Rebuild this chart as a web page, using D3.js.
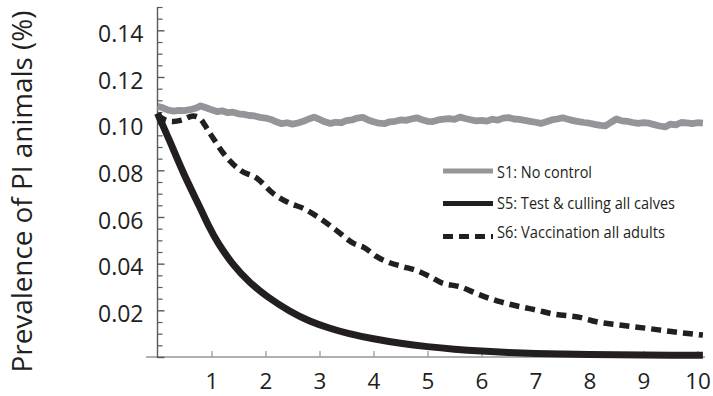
<!DOCTYPE html>
<html><head><meta charset="utf-8">
<script src="https://cdn.jsdelivr.net/npm/d3@7"></script>
<style>
body{margin:0;background:#fff}
svg{display:block}
text{font-family:"Open Sans",sans-serif;fill:#231f20}
</style>
</head><body>
<svg id="chart" width="713" height="396"></svg>
<script>
// ---------- data ----------
const xTickValues = [1,2,3,4,5,6,7,8,9,10];
const yTickValues = [0,0.02,0.04,0.06,0.08,0.10,0.12,0.14];
const yMinorTicks = [0.005,0.01,0.015,0.025,0.03,0.035,0.045,0.05,0.055,0.065,0.07,0.075,0.085,0.09,0.095,0.105,0.11,0.115,0.125,0.13,0.135,0.145,0.15];
const seriesNames = ["S1: No control","S5: Test & culling all calves","S6: Vaccination all adults"];
const yTitle = "Prevalence of PI animals (%)";

// S1: No control (sampled every 0.1 year)
const s1Values = [
0.1075,0.1068,0.1058,0.1054,0.1057,0.1056,0.1060,0.1066,0.1076,0.1068,
0.1060,0.1052,0.1055,0.1047,0.1049,0.1042,0.1040,0.1035,0.1033,0.1027,
0.1024,0.1018,0.1008,0.1000,0.1004,0.0998,0.1003,0.1010,0.1020,0.1028,
0.1018,0.1008,0.1001,0.1006,0.1004,0.1013,0.1016,0.1024,0.1027,0.1016,
0.1008,0.1002,0.1000,0.1008,0.1010,0.1016,0.1014,0.1020,0.1025,0.1017,
0.1010,0.1009,0.1016,0.1019,0.1022,0.1018,0.1028,0.1022,0.1017,0.1012,
0.1014,0.1011,0.1019,0.1015,0.1024,0.1026,0.1020,0.1018,0.1014,0.1010,
0.1006,0.1001,0.1008,0.1016,0.1020,0.1025,0.1019,0.1013,0.1009,0.1005,
0.1002,0.0997,0.0993,0.0991,0.1006,0.1020,0.1012,0.1010,0.1005,0.1001,
0.1004,0.1002,0.0996,0.0990,0.0986,0.0998,0.0995,0.1005,0.1003,0.1000,
0.1004,0.1002];
const s1Years = s1Values.map((v,i) => i/10);

// S5: Test & culling all calves
const s5Years  = [0,0.23,0.48,0.79,0.97,1.10,1.40,1.71,2.02,2.45,2.82,3.19,3.5,4.0,4.5,5.0,5.5,6.0,6.5,7.0,7.5,8.0,8.5,9.0,9.5,10.1];
const s5Values = [0.1044,0.0925,0.0785,0.0640,0.0550,0.0495,0.0392,0.0318,0.0259,0.0195,0.0152,0.0123,0.0102,0.0077,0.0058,0.0044,0.0033,0.0025,0.0019,0.0015,0.0013,0.0011,0.0010,0.0009,0.0008,0.0007];

// S6: Vaccination all adults
const s6Years  = [0,0.15,0.29,0.45,0.66,0.76,0.97,1.22,1.53,1.84,2.14,2.45,2.70,3.01,3.3,3.63,3.82,4.06,4.3,4.55,4.8,5.05,5.25,5.6,5.97,6.34,6.71,7.02,7.33,7.82,8.13,8.56,9.06,9.55,10.1];
const s6Values = [0.1037,0.1015,0.1009,0.1015,0.1033,0.1027,0.0959,0.0873,0.0801,0.0766,0.0701,0.0659,0.0637,0.0594,0.0545,0.0487,0.0470,0.0430,0.0404,0.0387,0.0370,0.0344,0.0319,0.0301,0.0266,0.0237,0.0216,0.0201,0.0184,0.0170,0.0151,0.0137,0.0123,0.0108,0.0094];

// ---------- drawing ----------
const svg = d3.select("#chart");
const x = d3.scaleLinear().domain([0,10]).range([157.5,697.5]);
const y = d3.scaleLinear().domain([0,0.15]).range([357,7]);

const GREY = "#939598", BLACK = "#231f20", AXIS = "#58595b";

// x axis line (extends a bit past the data)
svg.append("line").attr("x1",146).attr("x2",705).attr("y1",y(0)).attr("y2",y(0))
  .attr("stroke",GREY).attr("stroke-width",1.6);

// x axis ticks + labels
const gx = svg.append("g").attr("transform",`translate(0,${y(0)})`)
  .call(d3.axisBottom(x).tickValues(xTickValues).tickSize(-6).tickSizeOuter(0).tickFormat(d3.format("d")));
gx.select(".domain").remove();
gx.selectAll(".tick line").attr("stroke",GREY).attr("stroke-width",1.2);
gx.selectAll(".tick text").attr("y",32).attr("dy",null)
  .style("font-size","22.5px").style("font-family","'Open Sans',sans-serif").attr("fill","#231f20");

// y axis
svg.append("line").attr("x1",x(0)).attr("x2",x(0)).attr("y1",y(0)+1).attr("y2",y(0.15))
  .attr("stroke",AXIS).attr("stroke-width",1.4);
const gyMinor = svg.append("g").attr("transform",`translate(${x(0)},0)`)
  .call(d3.axisLeft(y).tickValues(yMinorTicks).tickSize(-5).tickSizeOuter(0).tickFormat(""));
gyMinor.select(".domain").remove();
gyMinor.selectAll(".tick line").attr("stroke",AXIS).attr("stroke-width",1.2);

const gy = svg.append("g").attr("transform",`translate(${x(0)},0)`)
  .call(d3.axisLeft(y).tickValues(yTickValues).tickSize(-7).tickSizeOuter(0).tickPadding(14)
        .tickFormat(d => d === 0 ? "" : d3.format(".2f")(d)));
gy.select(".domain").remove();
gy.selectAll(".tick line").attr("stroke",AXIS).attr("stroke-width",1.4);
gy.selectAll(".tick text").attr("dy","11px")
  .style("font-size","23px").style("font-family","'Open Sans',sans-serif").attr("fill","#231f20");

// y title
svg.append("text")
  .attr("transform","translate(32,191.5) rotate(-90)")
  .attr("text-anchor","middle")
  .attr("textLength",362).attr("lengthAdjust","spacingAndGlyphs")
  .style("font-size","28px")
  .text(yTitle);

// series
const s1 = s1Years.map((t,i)=>[t,s1Values[i]]);
const s5 = s5Years.map((t,i)=>[t,s5Values[i]]);
const s6 = s6Years.map((t,i)=>[t,s6Values[i]]);

const lineLin = d3.line().x(d=>x(d[0])).y(d=>y(d[1]));
const lineMono = d3.line().x(d=>x(d[0])).y(d=>y(d[1])).curve(d3.curveMonotoneX);
const lineBasis = d3.line().x(d=>x(d[0])).y(d=>y(d[1])).curve(d3.curveBasis);

svg.append("path").datum(s1).attr("d",lineLin)
  .attr("fill","none").attr("stroke",GREY).attr("stroke-width",6.8).attr("stroke-linejoin","round");
svg.append("path").datum(s6).attr("d",lineMono)
  .attr("fill","none").attr("stroke",BLACK).attr("stroke-width",5.5).attr("stroke-dasharray","10,6");
svg.append("path").datum(s5).attr("d",lineBasis)
  .attr("fill","none").attr("stroke",BLACK).attr("stroke-width",7).attr("stroke-linejoin","round");

// legend
const legendLineY = [171,203.5,236.5];
const legendTextY = [177.5,208.5,238];
const legendTextLen = [95,178,168];
const legendStyles = [
  {stroke:GREY, dash:null},
  {stroke:BLACK, dash:null},
  {stroke:BLACK, dash:"10,6"}
];
seriesNames.forEach((name,i)=>{
  svg.append("line").attr("x1",443).attr("x2",493)
    .attr("y1",legendLineY[i]).attr("y2",legendLineY[i])
    .attr("stroke",legendStyles[i].stroke).attr("stroke-width",5)
    .attr("stroke-dasharray",legendStyles[i].dash);
  svg.append("text").attr("x",497).attr("y",legendTextY[i])
    .attr("textLength",legendTextLen[i]).attr("lengthAdjust","spacingAndGlyphs")
    .style("font-size","15.5px").text(name);
});
</script>
</body></html>
